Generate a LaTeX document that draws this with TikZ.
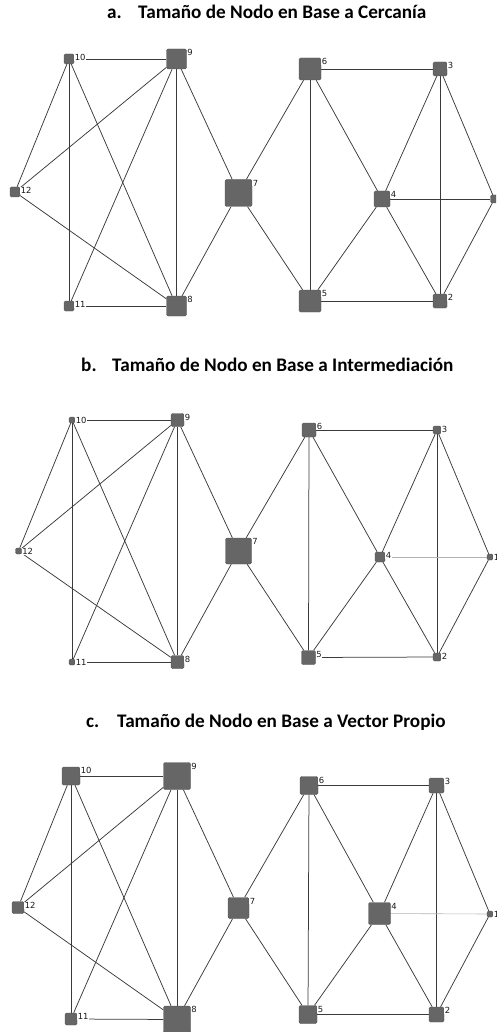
\documentclass[tikz,border=0pt]{standalone}
\usepackage{fontspec}
\setmainfont{DejaVu Sans}
\newfontfamily\titlefont{Carlito}
\usetikzlibrary{backgrounds}
\definecolor{ndfill}{HTML}{666666}
\definecolor{ndline}{HTML}{555555}
\definecolor{edgecol}{HTML}{3A3A3A}
\definecolor{lightedge}{HTML}{B4B4B4}
\tikzset{
  nd/.style={rectangle, rounded corners=1.5pt, fill=ndfill, draw=ndline, line width=0.4pt, inner sep=0pt, minimum size=#1},
  lab/.style={font=\fontsize{8.4}{9}\selectfont, text=black!90, inner sep=0.4pt, anchor=north west, fill=white},
  ttl/.style={font=\titlefont\bfseries\fontsize{19.2}{21}\selectfont, anchor=base west, inner sep=0pt},
  ed/.style={draw=edgecol, line width=0.75pt},
  led/.style={draw=lightedge, line width=0.6pt}
}
\newcommand{\graphnode}[5]{% prefix, id, x, y, size
  \node[nd=#5pt, label={[lab]north east:#2}] (#1#2) at (#3,#4) {};}
\newcommand{\graphedges}[2]{% prefix, style of 4-1
  \begin{pgfonlayer}{background}
  \foreach \u/\v in {10/9,10/12,10/11,10/8,9/12,9/11,9/8,9/7,12/8,11/8,8/7,7/6,7/5,6/5,6/3,6/4,5/4,5/2,3/4,3/2,3/1,2/4,2/1}
    \draw[ed] (#1\u) -- (#1\v);
  \draw[#2] (#14) -- (#11);
  \end{pgfonlayer}}
\begin{document}
\begin{tikzpicture}[x=1pt,y=-1pt]
\useasboundingbox (0,0) rectangle (496,1032);
\clip (0,0) rectangle (496,1032);

% ---------- panel a ----------
\node[ttl] (ta) at (107,19) {\makebox[31pt][l]{a.}Tamaño de Nodo en Base a Cercanía};
\graphnode{a}{1}{494.5}{199}{8}
\graphnode{a}{2}{440}{301}{14}
\graphnode{a}{3}{440}{69}{14}
\graphnode{a}{4}{382}{199}{16}
\graphnode{a}{5}{310}{301}{22}
\graphnode{a}{6}{310}{69}{22}
\graphnode{a}{7}{238.5}{193}{27}
\graphnode{a}{8}{176.5}{306}{20}
\graphnode{a}{9}{176.5}{59}{20}
\graphnode{a}{10}{69}{59}{10}
\graphnode{a}{11}{69}{306}{10}
\graphnode{a}{12}{15}{192}{10}
\graphedges{a}{ed}

% ---------- panel b ----------
\node[ttl] (tb) at (81,371) {\makebox[31pt][l]{b.}Tamaño de Nodo en Base a Intermediación};
\graphnode{b}{1}{490}{557}{6}
\graphnode{b}{2}{437}{657}{8}
\graphnode{b}{3}{437}{430}{8}
\graphnode{b}{4}{380}{557}{10}
\graphnode{b}{5}{308.5}{657.5}{14}
\graphnode{b}{6}{309}{430}{14}
\graphnode{b}{7}{238.5}{551}{26}
\graphnode{b}{8}{177.5}{662}{13}
\graphnode{b}{9}{177.5}{420}{13}
\graphnode{b}{10}{72}{420}{6}
\graphnode{b}{11}{72}{662}{6}
\graphnode{b}{12}{18.5}{551}{6}
\graphedges{b}{led}

% ---------- panel c ----------
\node[ttl] (tc) at (86,727) {\makebox[31pt][l]{c.}Tamaño de Nodo en Base a Vector Propio};
\graphnode{c}{1}{490}{914}{6}
\graphnode{c}{2}{436.5}{1014.5}{15}
\graphnode{c}{3}{436.5}{785.5}{15}
\graphnode{c}{4}{379.5}{913.5}{22}
\graphnode{c}{5}{308}{1014.5}{18}
\graphnode{c}{6}{309}{785.5}{18}
\graphnode{c}{7}{238.5}{908}{21}
\graphnode{c}{8}{177}{1019.5}{27}
\graphnode{c}{9}{177}{776}{27}
\graphnode{c}{10}{71}{776}{18}
\graphnode{c}{11}{71}{1019}{12}
\graphnode{c}{12}{18}{907.5}{12}
\graphedges{c}{led}
\end{tikzpicture}
\end{document}
